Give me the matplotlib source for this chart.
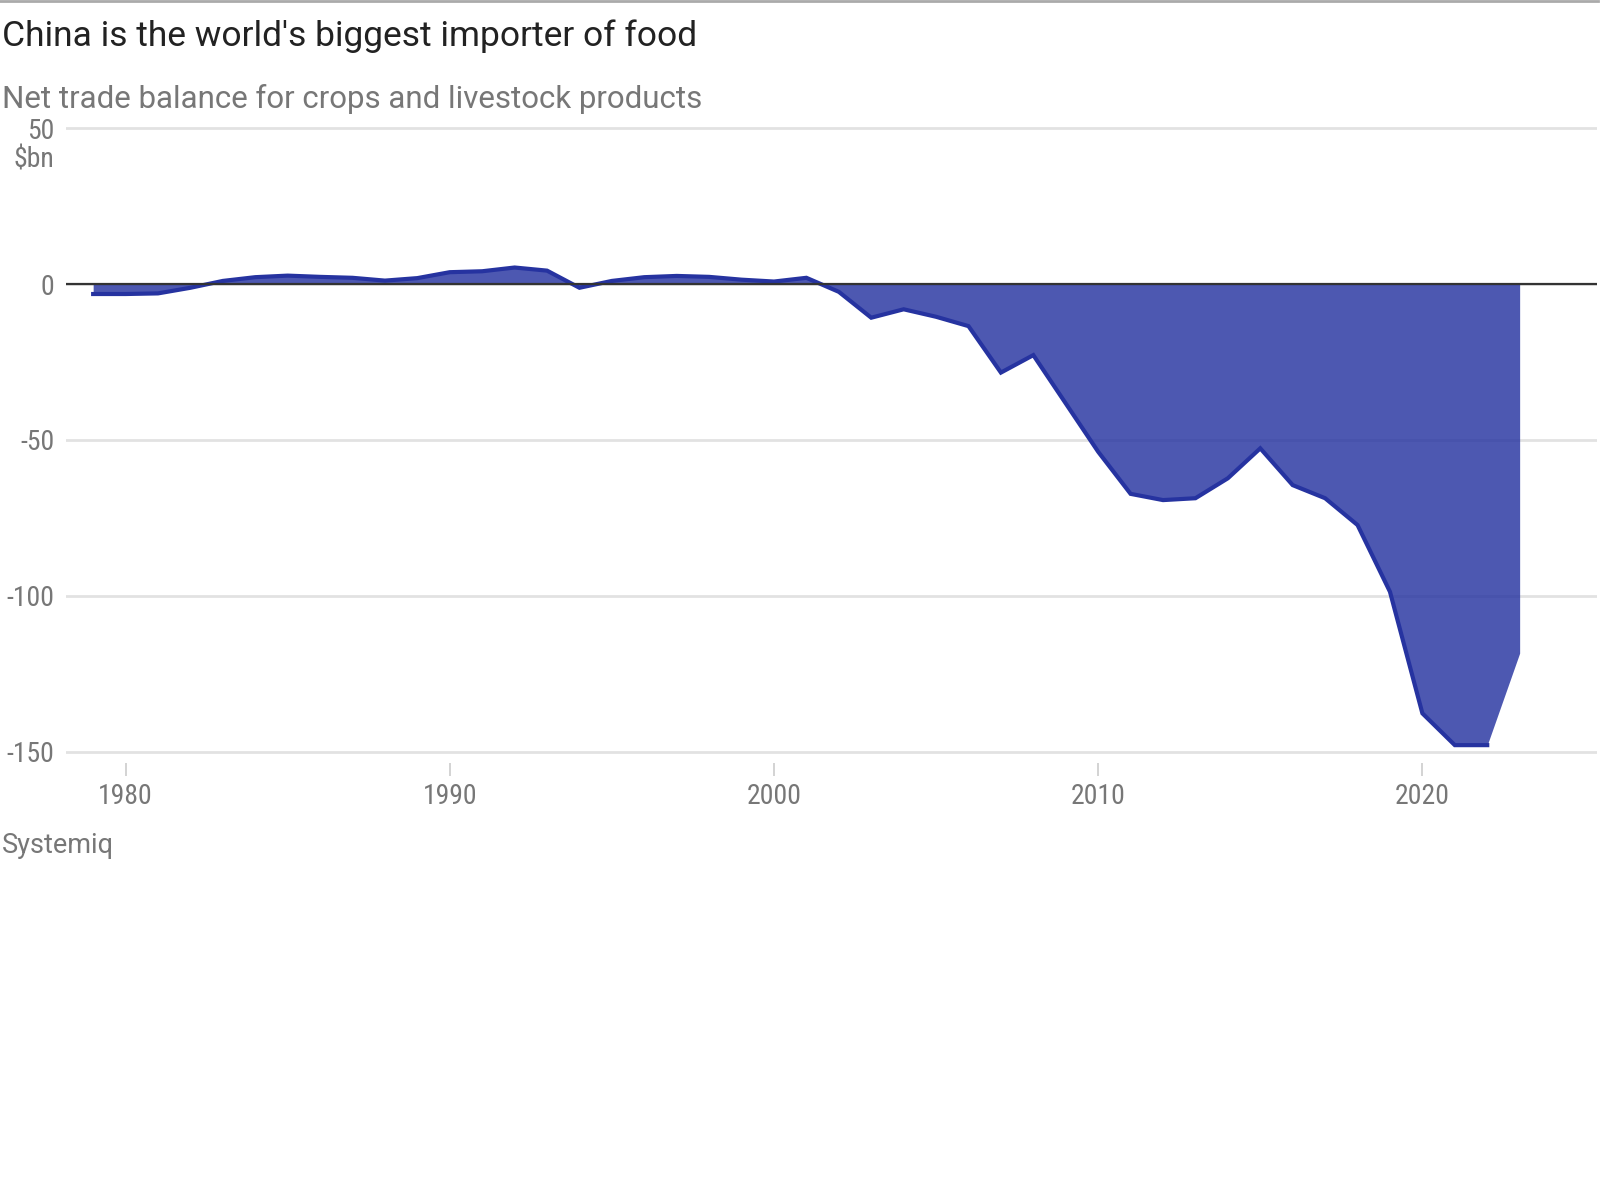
import matplotlib.pyplot as plt
from matplotlib.lines import Line2D

# Net trade balance for crops and livestock products, China ($bn)
years = list(range(1979, 2024))
balance = [
    -3.2, -3.2, -3.0, -1.2, 1.0, 2.2, 2.7, 2.3, 2.0, 1.1,    # 1979-1988
    1.9, 3.8, 4.1, 5.3, 4.3, -1.2, 1.0, 2.2, 2.6, 2.3,       # 1989-1998
    1.4, 0.8, 2.0, -2.5, -10.8, -8.1, -10.5, -13.5, -28.4,   # 1999-2007
    -22.8, -38.3, -53.8, -67.3, -69.3, -68.7, -62.3, -52.7,  # 2008-2015
    -64.5, -68.7, -77.3, -98.7, -137.7, -147.9, -147.9,      # 2016-2022
    -118.4,                                                  # 2023
]

x_ticks = [1980, 1990, 2000, 2010, 2020]
y_ticks = [50, 0, -50, -100, -150]

title = "China is the world's biggest importer of food"
subtitle = "Net trade balance for crops and livestock products"
source = "Systemiq"

line_color = '#2633a0'
grid_color = '#e2e2e2'
label_color = '#777777'
# narrow face for the axis numbers, falls back to Roboto
tick_font = ['Roboto Condensed', 'Liberation Sans Narrow', 'Roboto']
text_font = ['Roboto', 'DejaVu Sans']

fig = plt.figure(figsize=(16, 12), dpi=100)
ax = fig.add_axes([0.041, 0.3645, 0.957, 0.5339])

ax.fill_between(years, balance, 0, color=line_color, alpha=0.82, linewidth=0, zorder=2)
# the line stops at the last full year, the fill goes on to 2023
ax.plot(years[:-1], balance[:-1], color=line_color, lw=3, solid_joinstyle='miter', zorder=3)
ax.axhline(0, color='#333333', lw=1.6, zorder=4)

ax.set_xlim(1978.15, 2025.38)
ax.set_ylim(-153.5, 52)

ax.set_yticks(y_ticks)
ax.set_yticklabels([str(v) for v in y_ticks])
ax.set_xticks(x_ticks)
ax.set_xticklabels([str(v) for v in x_ticks])
ax.yaxis.grid(True, color=grid_color, lw=2, zorder=1)
ax.set_axisbelow(True)

for side in ['top', 'right', 'left', 'bottom']:
    ax.spines[side].set_visible(False)

ax.tick_params(axis='y', length=0, pad=8, labelsize=20, labelcolor=label_color)
ax.tick_params(axis='x', length=9, width=1.2, color='#cccccc', pad=6,
               labelsize=20, labelcolor=label_color)
for lab in ax.get_xticklabels() + ax.get_yticklabels():
    lab.set_family(tick_font)

# unit label under the top tick
ax.annotate(r'\$bn', xy=(0, 50), xycoords=('axes fraction', 'data'),
            xytext=(-8, -23), textcoords='offset points',
            ha='right', va='center', fontsize=20, color=label_color, family=tick_font)

# headline block
fig.add_artist(Line2D([0, 0.999], [0.9992, 0.9992], transform=fig.transFigure,
                      color='#aaaaaa', lw=2))
fig.text(0.001, 0.9617, title, fontsize=25.5, color='#222222', family=text_font, va='baseline')
fig.text(0.001, 0.91, subtitle, fontsize=22.5, color=label_color, family=text_font, va='baseline')
fig.text(0.001, 0.2895, source, fontsize=19.5, color=label_color, family=text_font, va='baseline')

fig.savefig('out.png', dpi=100, facecolor='white')
